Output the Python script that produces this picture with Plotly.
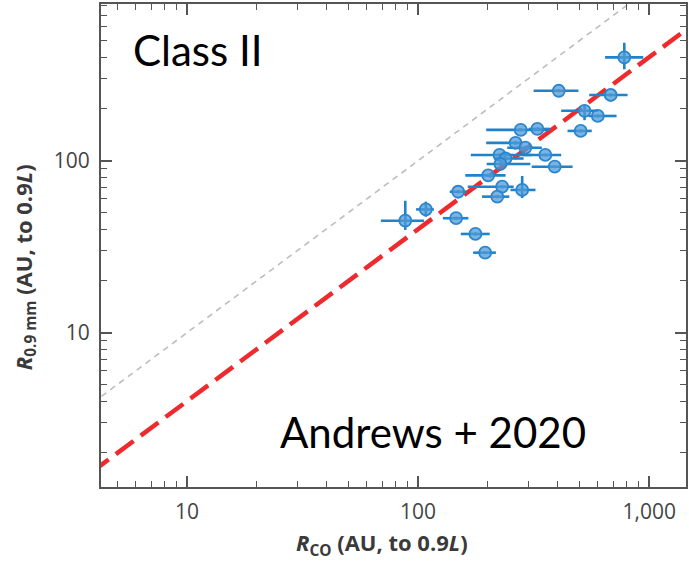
import plotly.graph_objects as go

# Disk sizes: CO gas radius vs 0.9 mm dust radius (AU, enclosing 0.9 L)
r_co = [780, 406, 681, 525, 599, 505, 278, 328, 264, 291, 355, 225, 239,
        227, 390, 201, 231, 282, 149, 220, 108, 88, 146, 177, 195]
r_co_lo = [644, 316, 550, 416, 546, 443, 197, 301, 197, 243, 286, 169, 213,
           198, 310, 160, 164, 251, 137, 189, 98, 69, 128, 153, 173]
r_co_hi = [942, 494, 806, 603, 722, 564, 367, 373, 281, 343, 416, 311, 286,
           306, 466, 239, 259, 322, 162, 248, 117, 106, 165, 204, 217]
r_mm = [399, 255, 241, 195, 182, 149, 151, 153, 127, 119, 108, 108, 103,
        95.7, 92.3, 82.2, 70.6, 67.6, 66, 61.8, 52.1, 44.8, 46.3, 37.5, 29.2]
r_mm_lo = [340, 250, 236, 172, 178, 146, 148, 150, 124, 116, 106, 106, 101,
           94, 90.5, 80.5, 69, 60.7, 64.5, 60.5, 47.2, 39.6, 45.3, 36.7, 28.6]
r_mm_hi = [485, 260, 246, 211, 186, 152, 154, 156, 130, 122, 110, 110, 105,
           97.5, 94, 84, 72, 81.5, 67.5, 63, 57.8, 58.5, 47.3, 38.3, 29.8]

# Reference relations
line_x = [3, 3000]
one_to_one = [3, 3000]
size_ratio = 0.4  # R_mm = 0.4 R_CO
fit_y = [v * size_ratio for v in line_x]

x_major = [10, 100, 1000]
x_major_text = ["10", "100", "1,000"]
y_major = [10, 100]
y_major_text = ["10", "100"]
x_minor = [5, 6, 7, 8, 9, 20, 30, 40, 50, 60, 70, 80, 90,
           200, 300, 400, 500, 600, 700, 800, 900]
y_minor = [2, 3, 4, 5, 6, 7, 8, 9, 20, 30, 40, 50, 60, 70, 80, 90,
           200, 300, 400, 500, 600, 700, 800]

err_x_plus = [h - v for h, v in zip(r_co_hi, r_co)]
err_x_minus = [v - l for v, l in zip(r_co, r_co_lo)]
err_y_plus = [h - v for h, v in zip(r_mm_hi, r_mm)]
err_y_minus = [v - l for v, l in zip(r_mm, r_mm_lo)]

fig = go.Figure()

fig.add_trace(go.Scatter(
    x=line_x, y=one_to_one, mode="lines",
    line=dict(color="#bdbdbd", width=1.6, dash="6px,5px"),
    hoverinfo="skip", showlegend=False))

fig.add_trace(go.Scatter(
    x=line_x, y=fit_y, mode="lines",
    line=dict(color="#ee2a2e", width=4.5, dash="22px,9px"),
    hoverinfo="skip", showlegend=False))

fig.add_trace(go.Scatter(
    x=r_co, y=r_mm, mode="markers",
    marker=dict(size=12, color="rgba(80,155,215,0.75)",
                line=dict(color="#2a86cf", width=1.8)),
    error_x=dict(type="data", array=err_x_plus, arrayminus=err_x_minus,
                 color="#1f82cc", thickness=2.6, width=0),
    error_y=dict(type="data", array=err_y_plus, arrayminus=err_y_minus,
                 color="#1f82cc", thickness=2.6, width=0),
    showlegend=False))

axis_common = dict(
    type="log", showgrid=False, zeroline=False,
    showline=True, linecolor="#555555", linewidth=2,
    mirror="allticks", ticks="inside", ticklen=11, tickwidth=1.6,
    tickcolor="#555555",
    tickfont=dict(family="Open Sans", size=21, color="#444444"),
)

fig.update_xaxes(
    **axis_common, range=[0.628, 3.159], ticklabelstandoff=5,
    tickmode="array", tickvals=x_major, ticktext=x_major_text,
    minor=dict(tickmode="array", tickvals=x_minor, ticks="inside",
               ticklen=6, tickwidth=1.4, tickcolor="#555555", showgrid=False),
)
fig.update_yaxes(
    **axis_common, range=[0.103, 2.911], ticklabelstandoff=5,
    tickmode="array", tickvals=y_major, ticktext=y_major_text,
    minor=dict(tickmode="array", tickvals=y_minor, ticks="inside",
               ticklen=6, tickwidth=1.4, tickcolor="#555555", showgrid=False),
)

title_font = dict(family="Open Sans", size=22, color="#3a3a3a")
fig.add_annotation(
    text="<b><i>R</i><sub>CO</sub> (AU, to 0.9<i>L</i>)</b>",
    xref="paper", yref="paper", x=0.48, y=-0.117, xanchor="center",
    yanchor="middle", showarrow=False, font=title_font)
fig.add_annotation(
    text="<b><i>R</i><sub>0.9 mm</sub> (AU, to 0.9<i>L</i>)</b>",
    xref="paper", yref="paper", x=-0.13, y=0.455, xanchor="center",
    yanchor="middle", textangle=-90, showarrow=False, font=title_font)

label_font = dict(family="Lato", size=42, color="#000000")
fig.add_annotation(
    text="Class II", xref="paper", yref="paper", x=0.052, y=0.905,
    xanchor="left", yanchor="middle", showarrow=False, font=label_font)
fig.add_annotation(
    text="Andrews + 2020", xref="paper", yref="paper", x=0.303, y=0.114,
    xanchor="left", yanchor="middle", showarrow=False, font=label_font)

fig.update_layout(
    width=689, height=563,
    margin=dict(l=101, r=1, t=4, b=76),
    paper_bgcolor="white", plot_bgcolor="white",
)

fig.write_html("out.html")
